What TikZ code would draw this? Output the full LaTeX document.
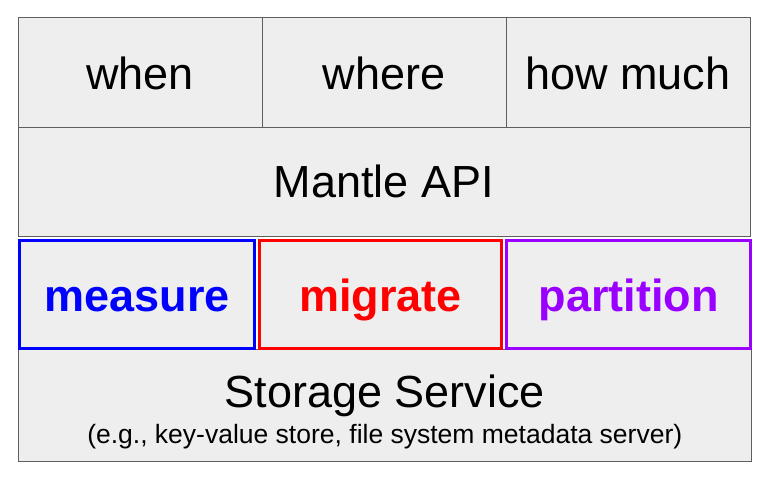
\documentclass[tikz,border=0pt]{standalone}
\usepackage{fontspec}
\setmainfont{Liberation Sans}
\usetikzlibrary{positioning}
\definecolor{cellfill}{HTML}{EEEEEE}
\definecolor{cellline}{HTML}{5F5F5F}
\definecolor{measureblue}{HTML}{0000FF}
\definecolor{migratered}{HTML}{FF0000}
\definecolor{partpurple}{HTML}{9900FF}
\tikzset{
 cell/.style={rectangle,draw=cellline,fill=cellfill,line width=1pt,inner sep=0,
   text height=34pt,text depth=0pt,font=\fontsize{45}{54}\selectfont},
 opbox/.style={cell,line width=3pt,font=\fontsize{45}{54}\selectfont\bfseries,minimum height=108pt},
 note/.style={anchor=base,inner sep=0}
}
\begin{document}
\begin{tikzpicture}[x=1pt,y=-1pt]
\path[use as bounding box] (0,0) rectangle (764,489);
% policy questions
\node[cell,minimum width=244pt,minimum height=109.5pt] (when) at (140,72.75) {when};
\node[cell,minimum width=244pt,minimum height=109.5pt] (where) at (384,72.75) {where};
\node[cell,minimum width=244pt,minimum height=109.5pt] (howmuch) at (628,72.75) {how much};
\node[cell,minimum width=732pt,minimum height=109pt,text height=32pt] (api) at (384,182) {Mantle API};
% storage layer
\node[cell,minimum width=733.5pt,minimum height=111pt] (storage) at (384.75,405.5) {};
\node[note,font=\fontsize{45}{54}\selectfont] (storname) at (384.75,407) {Storage Service};
\node[note,font=\fontsize{26.5}{32}\selectfont] (storex) at (384.75,443) {(e.g., key-value store, file system metadata server)};
% mechanisms
\node[opbox,draw=measureblue,text=measureblue,minimum width=235pt] (measure) at (137,294.5) {measure};
\node[opbox,draw=migratered,text=migratered,minimum width=242pt] (migrate) at (380.5,294.5) {migrate};
\node[opbox,draw=partpurple,text=partpurple,minimum width=244pt] (partition) at (628.5,294.5) {partition};
\end{tikzpicture}
\end{document}
